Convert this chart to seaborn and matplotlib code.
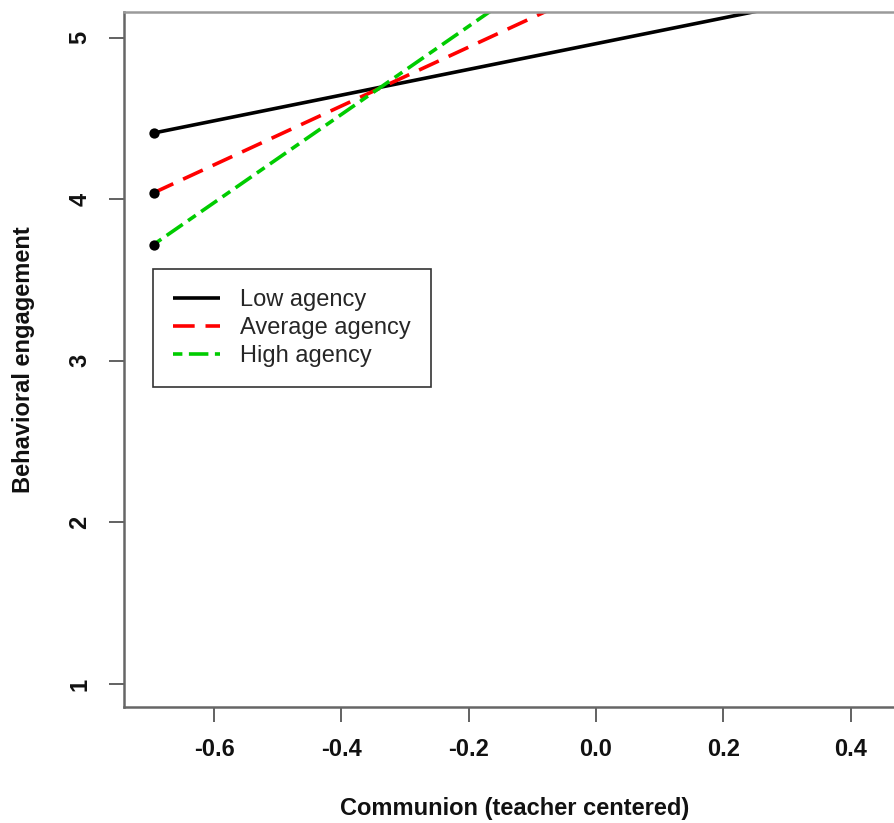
import matplotlib
matplotlib.use("Agg")
import matplotlib.pyplot as plt
import seaborn as sns
import pandas as pd
from matplotlib.lines import Line2D

# ---- data ----
communion = [-0.695, 0.65]          # line endpoints (teacher-centred communion)
low_agency = [4.41, 5.48]
average_agency = [4.04, 6.49]
high_agency = [3.72, 7.39]
series_names = ["Low agency", "Average agency", "High agency"]
series_colors = ["black", "#ff0000", "#00cc00"]
x_ticks = [-0.6, -0.4, -0.2, 0.0, 0.2, 0.4]
x_ticklabels = ["-0.6", "-0.4", "-0.2", "0.0", "0.2", "0.4"]
y_ticks = [1, 2, 3, 4, 5]

sns.set_theme(style="white")
plt.rcParams["font.family"] = ["Liberation Sans", "DejaVu Sans"]

fig = plt.figure(figsize=(8.95, 8.23), dpi=100)
ax = fig.add_axes([124 / 895, 1 - 707 / 823, 1 - 124 / 895, (707 - 12) / 823])

dash_styles = [None, (6.0, 3.0), (2.6, 1.8, 5.4, 1.8)]
lw = 2.6
for name, ys, col, dsh in zip(series_names, [low_agency, average_agency, high_agency],
                              series_colors, dash_styles):
    df = pd.DataFrame({"x": communion, "y": ys})
    sns.lineplot(data=df, x="x", y="y", color=col, linewidth=lw, ax=ax,
                 solid_capstyle="butt", dash_capstyle="butt")
    line = ax.lines[-1]
    if dsh is not None:
        line.set_dashes(dsh)

start_df = pd.DataFrame({"x": [communion[0]] * 3,
                         "y": [low_agency[0], average_agency[0], high_agency[0]]})
sns.scatterplot(data=start_df, x="x", y="y", color="black", s=55, marker="o",
                edgecolor="black", linewidth=0, ax=ax, zorder=5, clip_on=False)

ax.set_xlim(-0.7415, 0.4698)
ax.set_ylim(0.858, 5.159)
ax.set_xticks(x_ticks)
ax.set_xticklabels(x_ticklabels)
ax.set_yticks(y_ticks)
ax.set_yticklabels([str(v) for v in y_ticks], rotation=90, va="center")

for lab in ax.get_xticklabels() + ax.get_yticklabels():
    lab.set_fontweight("bold")
ax.tick_params(axis="both", which="both", direction="out", length=10.5, width=1.3,
               color="#555555", labelsize=17, labelcolor="#111111",
               bottom=True, left=True)
ax.tick_params(axis="x", pad=12)
ax.tick_params(axis="y", pad=13)

for side in ["left", "bottom"]:
    ax.spines[side].set_color("#666666")
    ax.spines[side].set_linewidth(1.8)
ax.spines["top"].set_color("#9a9a9a")
ax.spines["top"].set_linewidth(1.8)
ax.spines["right"].set_visible(False)

ax.set_xlabel("Communion (teacher centered)", fontsize=17, fontweight="bold",
              color="#111111", va="center")
ax.set_ylabel("Behavioral engagement", fontsize=17, fontweight="bold",
              color="#111111", va="center")
ax.xaxis.set_label_coords(0.5065, (707 - 808) / 695)
ax.yaxis.set_label_coords((24 - 124) / 771, 0.5)

handles = []
for col, dsh in zip(series_colors, dash_styles):
    h = Line2D([0], [0], color=col, linewidth=lw, solid_capstyle="butt",
               dash_capstyle="butt")
    if dsh is not None:
        h.set_dashes(dsh)
    handles.append(h)
leg = ax.legend(handles, series_names, loc="upper left",
                bbox_to_anchor=((153 - 124) / 771, (707 - 269) / 695),
                fontsize=17, frameon=True, fancybox=False, handlelength=2.0,
                handletextpad=0.85, borderpad=0.85, labelspacing=0.26,
                borderaxespad=0)
leg.get_frame().set_edgecolor("#333333")
leg.get_frame().set_linewidth(1.2)
leg.get_frame().set_facecolor("white")
leg.get_frame().set_alpha(1)

fig.savefig("out.png", dpi=100, facecolor="white")
